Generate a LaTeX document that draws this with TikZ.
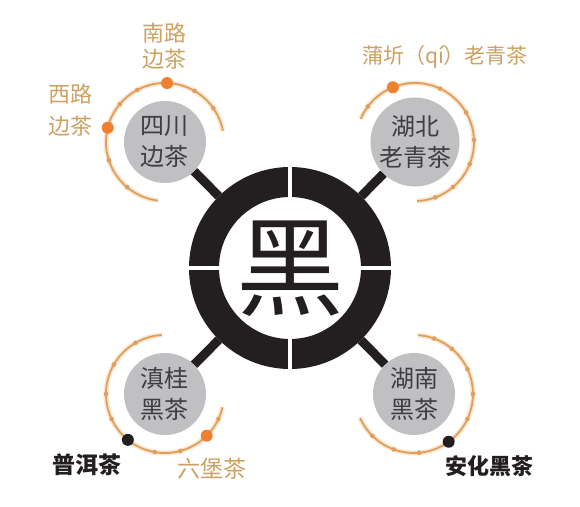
\documentclass[tikz,border=0pt]{standalone}
\usepackage{fontspec}
\setmainfont{Noto Sans CJK SC}
\usepackage{xcolor}
\usepackage{tikz}
\usetikzlibrary{calc}
\definecolor{noir}{RGB}{35,31,32}
\definecolor{gris}{RGB}{192,192,194}
\definecolor{grisfonce}{RGB}{62,62,64}
\definecolor{orangearc}{RGB}{226,158,86}
\definecolor{orangevif}{RGB}{238,128,48}
\definecolor{ocre}{RGB}{204,162,98}

\tikzset{
  region/.style={circle, fill=gris, minimum size=82, inner sep=0pt, text=grisfonce,
    align=center, font=\fontsize{24}{31}\selectfont},
  barre/.style={draw=noir, line width=9},
  arcthe/.style={preaction={draw, orangearc!25, line width=5}, draw=orangearc, line width=1.8},
  petitpoint/.style={fill=orangearc},
  etiquette/.style={text=ocre, align=center},
  etiquettenoire/.style={text=noir, font=\fontsize{23}{27}\selectfont\bfseries},
}

\begin{document}
\begin{tikzpicture}[x=1pt, y=1pt]
    % Fond blanc
    \fill[white] (-290,-238) rectangle (290,268);
    \useasboundingbox (-290,-238) rectangle (290,268);

    % Anneau central
    \node[circle, draw=noir, line width=30, minimum size=172, inner sep=0pt] (centre) at (0,0) {};
    \draw[white, line width=4] (0,-104) -- (0,104);
    \draw[white, line width=4] (-104,0) -- (104,0);
    \node[font=\fontsize{108}{108}\selectfont, text=noir] (hei) at (0,-1) {黑};

    % Cercles gris
    \node[region] (sichuan) at (-125,126) {四川\\边茶};
    \node[region] (hubei) at (125,126) {湖北\\老青茶};
    \node[region] (diangui) at (-125,-126) {滇桂\\黑茶};
    \node[region] (hunan) at (124,-126) {湖南\\黑茶};

    % Barres
    \draw[barre] (centre) -- (sichuan);
    \draw[barre] (centre) -- (hubei);
    \draw[barre] (centre) -- (diangui);
    \draw[barre] (centre) -- (hunan);

    % Arc du Sichuan
    \draw[arcthe] ([shift={(11:59)}]sichuan.center) arc[start angle=11, end angle=263, radius=59];
    \foreach \a in {35,60,118,140,198,230}
        \fill[petitpoint] ([shift={(\a:59)}]sichuan.center) circle (2.3);
    \fill[orangevif] ([shift={(88:59)}]sichuan.center) circle (6);
    \fill[orangevif] ([shift={(166:59)}]sichuan.center) circle (6);

    % Arc du Hubei
    \draw[arcthe] ([shift={(-88:59)}]hubei.center) arc[start angle=-88, end angle=157, radius=59];
    \foreach \a in {-70,-50,-22,2,30,65,143}
        \fill[petitpoint] ([shift={(\a:59)}]hubei.center) circle (2.3);
    \fill[orangevif] ([shift={(112:59)}]hubei.center) circle (6);

    % Arc du Dian-Gui
    \draw[arcthe] ([shift={(93:59)}]diangui.center) arc[start angle=93, end angle=347, radius=59];
    \foreach \a in {120,150,180,205,260,285,335}
        \fill[petitpoint] ([shift={(\a:59)}]diangui.center) circle (2.3);
    \fill[noir] ([shift={(231:59)}]diangui.center) circle (6);
    \fill[orangevif] ([shift={(315:59)}]diangui.center) circle (6);

    % Arc du Hunan
    \draw[arcthe] ([shift={(204:59)}]hunan.center) arc[start angle=204, end angle=446, radius=59];
    \foreach \a in {225,250,275,335,0,25,50,70}
        \fill[petitpoint] ([shift={(\a:59)}]hunan.center) circle (2.3);
    \fill[noir] ([shift={(306:59)}]hunan.center) circle (6);

    % Etiquettes
    \node[etiquette, font=\fontsize{22}{26.5}\selectfont] (nanlu) at (-125,222) {南路\\边茶};
    \node[etiquette, font=\fontsize{22}{32}\selectfont] (xilu) at (-219,158) {西路\\边茶};
    \node[etiquette, font=\fontsize{21}{26}\selectfont] (puqi) at (155,211) {蒲圻（qí）老青茶};
    \node[etiquettenoire] (puer) at (-203,-197) {普洱茶};
    \node[etiquette, font=\fontsize{23}{27}\selectfont] (liubao) at (-78,-201) {六堡茶};
    \node[etiquettenoire, font=\fontsize{22}{27}\selectfont\bfseries] (anhua) at (199,-198) {安化黑茶};
\end{tikzpicture}
\end{document}
